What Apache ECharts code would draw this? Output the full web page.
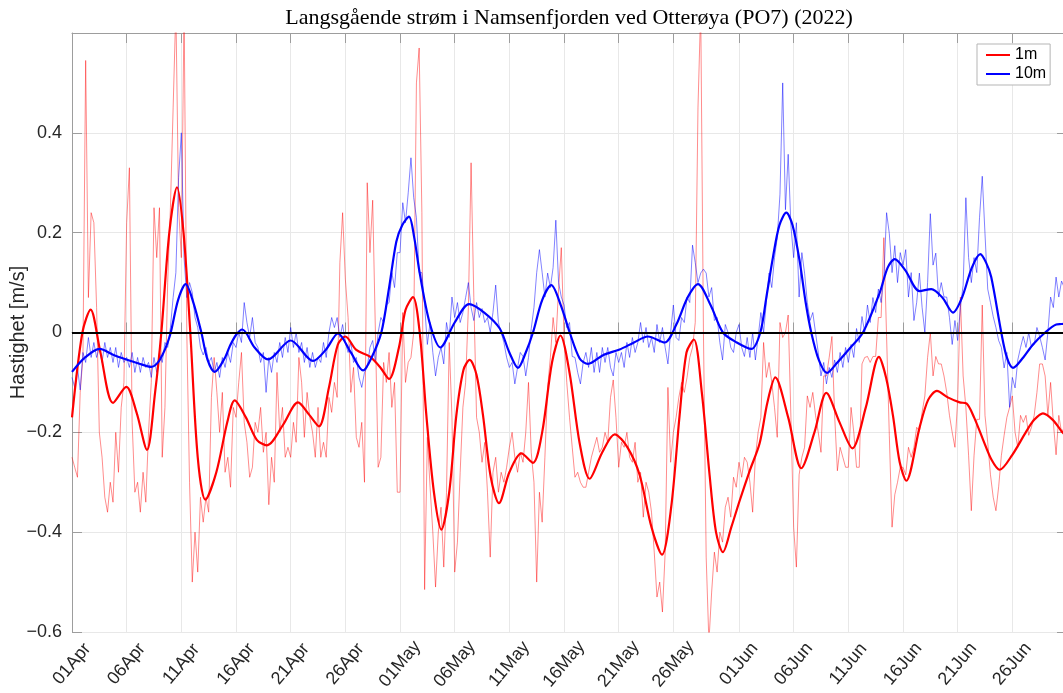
<!DOCTYPE html>
<html>
<head>
<meta charset="utf-8">
<script src="https://cdn.jsdelivr.net/npm/echarts@6/dist/echarts.min.js"></script>
<style>
  html, body { margin: 0; padding: 0; background: #fff; }
  #chart { width: 1063px; height: 693px; }
</style>
</head>
<body>
<div id="chart"></div>
<script>
// Langsgående strøm ved Otterøya (PO7), 2022.
// Rådata: én verdi hver 6. time fra 01.04 kl. 00.
const startDate = Date.UTC(2022, 3, 1);
const sampleHours = 6;
const endDay = 91;

const tickLabels = ['01Apr', '06Apr', '11Apr', '16Apr', '21Apr', '26Apr',
  '01May', '06May', '11May', '16May', '21May', '26May',
  '01Jun', '06Jun', '11Jun', '16Jun', '21Jun', '26Jun'];

// 1 m dyp, rådata (m/s), fire verdier per døgn
const raw1m = [
  -0.25, -0.27, -0.29, -0.12,
  -0.05, 0.545, 0.07, 0.24,
  0.22, 0.05, -0.20, -0.25,
  -0.33, -0.36, -0.30, -0.34,
  -0.20, -0.28, -0.15, -0.10,
  0.22, 0.33, -0.18, -0.32,
  -0.30, -0.36, -0.28, -0.34,
  -0.20, -0.10, 0.25, 0.15,
  0.25, -0.25, -0.15, 0.10,
  0.25, 0.45, 0.65, 0.25,
  0.15, 0.65, 0.00, -0.30,
  -0.50, -0.40, -0.48, -0.33,
  -0.38, -0.33, -0.36, -0.13,
  -0.05, -0.12, -0.20, -0.12,
  -0.28, -0.25, -0.31, -0.15,
  -0.17, -0.10, -0.04, -0.18,
  -0.22, -0.29, -0.27, -0.18,
  -0.20, -0.15, -0.24, -0.20,
  -0.345, -0.25, -0.30, -0.08,
  -0.20, -0.15, -0.25, -0.23,
  -0.25, -0.18, -0.22, -0.05,
  -0.10, -0.21, -0.12, -0.17,
  -0.20, -0.25, -0.15, -0.25,
  -0.22, -0.25, -0.13, -0.16,
  -0.10, -0.13, 0.14, 0.24,
  0.107, 0.03, -0.12, -0.07,
  -0.21, -0.23, -0.18, -0.30,
  0.30, 0.16, 0.265, 0.00,
  -0.27, -0.25, -0.06, -0.10,
  -0.04, -0.15, -0.10, -0.32,
  -0.32, 0.04, -0.10, -0.06,
  -0.05, 0.00, 0.50, 0.57,
  0.24, -0.515, -0.21, -0.31,
  -0.40, -0.51, -0.40, -0.35,
  -0.47, -0.32, -0.02, -0.17,
  -0.48, -0.42, -0.28, -0.15,
  -0.10, 0.05, 0.34, 0.07,
  -0.17, -0.20, -0.26, -0.22,
  -0.32, -0.45, -0.28, -0.25,
  -0.32, -0.28, -0.30, -0.27,
  -0.23, -0.20, -0.25, -0.28,
  -0.24, -0.26, -0.20, -0.10,
  -0.24, -0.30, -0.50, -0.32,
  -0.38, -0.25, -0.11, -0.05,
  0.03, -0.02, 0.087, 0.17,
  -0.01, -0.10, -0.17, -0.23,
  -0.29, -0.28, -0.30, -0.31,
  -0.31, -0.28, -0.25, -0.23,
  -0.21, -0.24, -0.23, -0.20,
  -0.22, -0.13, -0.095, -0.17,
  -0.27, -0.22, -0.23, -0.20,
  -0.25, -0.26, -0.22, -0.30,
  -0.28, -0.37, -0.30, -0.32,
  -0.36, -0.44, -0.53, -0.50,
  -0.56, -0.44, -0.11, -0.26,
  -0.20, -0.17, -0.13, -0.10,
  -0.12, -0.09, -0.05, -0.03,
  0.02, 0.45, 0.65, 0.00,
  -0.45, -0.62, -0.52, -0.44,
  -0.48, -0.40, -0.42, -0.35,
  -0.33, -0.37, -0.29, -0.31,
  -0.26, -0.29, -0.25, -0.26,
  -0.30, -0.36, -0.25, -0.20,
  -0.17, -0.02, -0.09, -0.06,
  -0.10, -0.15, -0.21, 0.02,
  -0.01, 0.00, 0.035, -0.17,
  -0.39, -0.47, -0.285, -0.25,
  -0.23, -0.127, -0.15, -0.12,
  -0.166, -0.20, -0.24, -0.087,
  -0.087, -0.05, -0.008, -0.166,
  -0.277, -0.23, -0.25, -0.27,
  -0.27, -0.15, -0.20, -0.27,
  -0.27, -0.063, -0.05, -0.048,
  -0.06, -0.048, -0.048, 0.03,
  0.03, 0.19, -0.008, -0.206,
  -0.39, -0.325, -0.30, -0.27,
  -0.27, -0.285, -0.23, -0.25,
  -0.23, -0.19, -0.198, -0.16,
  -0.127, -0.05, 0.00, -0.087,
  -0.048, -0.063, -0.063, -0.087,
  -0.12, -0.166, -0.20, -0.23,
  -0.135, 0.071, -0.087, -0.15,
  -0.246, -0.357, -0.246, -0.174,
  -0.174, 0.055, -0.166, -0.22,
  -0.285, -0.33, -0.357, -0.309,
  -0.246, -0.206, -0.17, -0.15,
  -0.127, -0.20, -0.23, -0.166,
  -0.18, -0.166, -0.206, -0.19,
  -0.166, -0.12, -0.063, -0.063,
  -0.087, -0.166, -0.10, -0.18,
  -0.245, -0.166, -0.20, -0.19
];

// 10 m dyp, rådata (m/s), fire verdier per døgn
const raw10m = [
  -0.09, -0.11, -0.07, -0.115,
  -0.04, -0.06, -0.01, -0.05,
  -0.02, -0.05, -0.03, -0.06,
  -0.02, -0.05, -0.03, -0.06,
  -0.03, -0.07, -0.04, -0.06,
  -0.05, -0.07, -0.04, -0.08,
  -0.05, -0.08, -0.05, -0.07,
  -0.06, -0.09, -0.05, -0.08,
  -0.04, -0.06, -0.02, -0.03,
  0.01, 0.07, 0.12, 0.31,
  0.40, 0.15, 0.07, 0.10,
  0.08, 0.03, 0.01, -0.03,
  -0.045, -0.03, -0.06, -0.05,
  -0.08, -0.06, -0.09, -0.05,
  -0.07, -0.04, -0.06, -0.02,
  -0.03, 0.00, -0.02, 0.06,
  0.02, -0.01, 0.03, -0.02,
  -0.03, -0.06, -0.04, -0.12,
  -0.05, -0.08, -0.04, -0.06,
  -0.02, -0.05, -0.01, -0.04,
  0.01, -0.03, 0.00, -0.04,
  -0.02, -0.06, -0.03, -0.07,
  -0.04, -0.07, -0.05, -0.06,
  -0.02, -0.05, 0.00, 0.03,
  0.01, 0.03, -0.01, 0.016,
  -0.02, -0.04, -0.02, -0.06,
  -0.05, -0.09, -0.11, -0.08,
  -0.07, -0.03, -0.016, -0.06,
  0.00, 0.03, 0.02, 0.055,
  0.06, 0.12, 0.09, 0.16,
  0.16, 0.26, 0.22, 0.28,
  0.35, 0.27, 0.23, 0.12,
  0.12, 0.055, -0.024, 0.02,
  -0.04, -0.087, -0.05, -0.03,
  -0.063, 0.02, -0.01, 0.071,
  0.03, 0.06, 0.02, 0.04,
  0.07, 0.10, 0.05, 0.024,
  0.06, 0.03, 0.048, 0.02,
  0.03, 0.00, 0.04, 0.095,
  0.02, 0.00, -0.02, -0.05,
  -0.07, -0.06, -0.103, -0.07,
  -0.04, -0.048, -0.087, -0.05,
  0.008, 0.05, 0.12, 0.166,
  0.12, 0.071, 0.119, 0.09,
  0.13, 0.225, 0.10, 0.071,
  0.055, 0.01, 0.02, -0.048,
  -0.05, -0.08, -0.103, -0.06,
  -0.04, -0.07, -0.03, -0.08,
  -0.04, -0.08, -0.03, -0.06,
  -0.03, -0.07, -0.087, -0.04,
  -0.06, -0.04, -0.07, -0.02,
  -0.05, -0.01, -0.04, -0.02,
  0.02, -0.02, 0.01, -0.03,
  -0.01, -0.04, 0.016, -0.02,
  0.01, -0.03, -0.063, 0.00,
  0.055, -0.01, -0.016, 0.03,
  0.02, 0.071, 0.06, 0.175,
  0.14, 0.10, 0.119, 0.127,
  0.119, 0.071, 0.09, 0.024,
  0.03, -0.02, -0.055, 0.016,
  0.00, -0.03, -0.04, 0.00,
  0.016, -0.03, -0.048, -0.01,
  -0.05, 0.00, -0.055, -0.01,
  0.04, 0.00, 0.06, 0.119,
  0.09, 0.15, 0.19, 0.277,
  0.50, 0.246, 0.357, 0.214,
  0.15, 0.22, 0.071, 0.16,
  0.119, 0.06, 0.024, 0.04,
  0.00, -0.04, -0.087, -0.06,
  -0.103, -0.07, -0.09, -0.055,
  -0.08, -0.04, -0.07, -0.03,
  -0.06, -0.024, -0.05, 0.008,
  -0.02, 0.032, 0.00, 0.055,
  0.02, 0.07, 0.04, 0.087,
  0.06, 0.11, 0.24, 0.198,
  0.12, 0.174, 0.10, 0.16,
  0.135, 0.166, 0.071, 0.12,
  0.024, 0.06, 0.119, 0.05,
  0.00, 0.10, 0.238, 0.135,
  0.159, 0.071, 0.10, 0.071,
  0.071, 0.03, -0.024, 0.024,
  -0.016, 0.05, 0.095, 0.27,
  0.15, 0.10, 0.15, 0.12,
  0.23, 0.313, 0.198, 0.087,
  0.06, 0.032, 0.01, -0.016,
  -0.03, -0.071, -0.04, -0.15,
  -0.09, -0.111, -0.055, -0.03,
  -0.008, -0.03, 0.00, -0.03,
  -0.024, 0.01, -0.008, -0.03,
  -0.055, 0.00, 0.071, 0.05,
  0.111, 0.071, 0.103, 0.09
];

// Lavpassfiltrert strøm: [døgn etter 01.04, m/s]
const filt1m = [
  [0, -0.17], [0.95, 0], [1.7, 0.046], [2.6, -0.04], [3.75, -0.141], [4.97, -0.109],
  [5.9, -0.16], [6.86, -0.235], [7.6, -0.12], [8.17, 0], [8.9, 0.2], [9.6, 0.291],
  [10.2, 0.2], [10.82, 0], [11.5, -0.25], [12.2, -0.335], [13.2, -0.28], [14.2, -0.18],
  [14.88, -0.136], [15.9, -0.17], [16.9, -0.215], [17.83, -0.226], [19.3, -0.185],
  [20.67, -0.14], [21.7, -0.165], [22.59, -0.188], [23.5, -0.11], [24.3, -0.025],
  [25.0, -0.008], [26.0, -0.035], [27.22, -0.048], [28.2, -0.07], [29.0, -0.093],
  [29.9, -0.03], [30.5, 0.045], [31.19, 0.071], [31.8, 0.0], [32.41, -0.166],
  [33.1, -0.32], [33.78, -0.395], [34.5, -0.32], [35.15, -0.166], [35.8, -0.075],
  [36.37, -0.055], [37.0, -0.085], [37.59, -0.166], [38.3, -0.29], [39.05, -0.342],
  [40.0, -0.28], [41.1, -0.242], [42.16, -0.261], [43.0, -0.2], [43.9, -0.06],
  [44.67, -0.006], [45.5, -0.08], [46.43, -0.222], [47.34, -0.293], [48.5, -0.24],
  [49.63, -0.204], [50.8, -0.23], [51.91, -0.285], [53.0, -0.39], [53.96, -0.445],
  [54.8, -0.35], [55.57, -0.166], [56.2, -0.04], [56.88, -0.014], [57.6, -0.12],
  [58.31, -0.285], [58.9, -0.4], [59.53, -0.44], [60.3, -0.39], [61.06, -0.337],
  [61.98, -0.277], [62.89, -0.222], [63.6, -0.14], [64.32, -0.09], [65.5, -0.17],
  [66.7, -0.272], [67.9, -0.2], [68.99, -0.121], [70.2, -0.18], [71.37, -0.232],
  [72.6, -0.15], [73.8, -0.049], [74.45, -0.09], [75.08, -0.166], [75.7, -0.26],
  [76.3, -0.297], [77.52, -0.19], [78.3, -0.135], [79.1, -0.117], [80.1, -0.13],
  [81.18, -0.14], [81.8, -0.142], [82.5, -0.17], [83.31, -0.214], [84.1, -0.255],
  [84.84, -0.275], [86.0, -0.245], [87.28, -0.198], [88.0, -0.175], [88.8, -0.162],
  [89.7, -0.175], [90.5, -0.198], [90.8, -0.205]
];

const filt10m = [
  [0, -0.079], [1.2, -0.05], [2.53, -0.033], [3.8, -0.045], [4.97, -0.054], [6.1, -0.062],
  [7.26, -0.069], [8.02, -0.055], [8.93, -0.008], [9.7, 0.065], [10.4, 0.097], [11.1, 0.06],
  [11.83, 0], [12.4, -0.055], [13.05, -0.079], [14.0, -0.05], [14.42, -0.028], [15.0, -0.005],
  [15.58, 0.006], [16.7, -0.03], [17.93, -0.054], [20.0, -0.016], [22.04, -0.057],
  [23.2, -0.035], [24.33, -0.002], [25.5, -0.04], [26.62, -0.076], [27.4, -0.05],
  [28.29, 0], [29.0, 0.09], [29.66, 0.182], [30.2, 0.215], [30.82, 0.232], [31.3, 0.19],
  [31.8, 0.119], [32.7, 0.02], [33.69, -0.030], [35.0, 0.02], [36.31, 0.057], [37.7, 0.04],
  [39.12, 0.008], [40.0, -0.04], [40.79, -0.071], [41.5, -0.04], [42.16, 0], [43.0, 0.065],
  [43.84, 0.095], [44.7, 0.055], [45.52, 0], [46.43, -0.052], [47.19, -0.063],
  [48.6, -0.045], [50.08, -0.034], [51.4, -0.02], [52.67, -0.008], [54.2, -0.02],
  [55.27, 0.016], [56.3, 0.07], [57.25, 0.097], [58.4, 0.055], [59.53, 0], [60.8, -0.02],
  [62.13, -0.033], [62.95, 0], [63.5, 0.07], [64.11, 0.151], [64.7, 0.215], [65.33, 0.240],
  [65.9, 0.215], [66.55, 0.143], [67.1, 0.06], [67.61, 0], [68.3, -0.055], [69.05, -0.081],
  [70.0, -0.06], [71.12, -0.032], [72.34, 0], [73.86, 0.079], [74.6, 0.13], [75.24, 0.147],
  [76.2, 0.125], [77.52, 0.083], [78.59, 0.087], [79.6, 0.07], [80.57, 0.040], [81.4, 0.07],
  [82.3, 0.13], [83.07, 0.157], [83.6, 0.14], [84.07, 0.111], [84.99, 0], [85.5, -0.05],
  [86.06, -0.071], [87.0, -0.05], [87.89, -0.024], [89.0, 0.0], [90.02, 0.016],
  [90.5, 0.017], [90.8, 0.018]
];

// ---- time helpers -------------------------------------------------------
const monthIndex = { Jan: 0, Feb: 1, Mar: 2, Apr: 3, May: 4, Jun: 5, Jul: 6 };
const stepMs = sampleHours * 3600 * 1000;
const stepDays = sampleHours / 24;
const slotCount = Math.round(endDay / stepDays) + 1;

// one category per sample slot, used only to place date ticks and grid lines
const slots = [];
for (let i = 0; i < slotCount; i++) slots.push(String(i));

const labelAtSlot = {};
tickLabels.forEach(function (lab) {
  const d = parseInt(lab.slice(0, 2), 10);
  const m = monthIndex[lab.slice(2)];
  const slot = Math.round((Date.UTC(2022, m, d) - startDate) / stepMs);
  labelAtSlot[slot] = lab;
});
const isTick = function (idx) { return labelAtSlot[idx] !== undefined; };

const toSeries = function (arr) {
  return arr.map(function (v, i) { return [i * stepDays, v]; });
};

const axisGrey = '#9d9d9d';
const gridGrey = '#e8e8e8';
const textDark = '#262626';
const sansFont = '"Liberation Sans", Arial, Helvetica, sans-serif';

const chart = echarts.init(document.getElementById('chart'), null, { renderer: 'canvas' });

chart.setOption({
  animation: false,
  backgroundColor: '#fff',
  title: {
    text: 'Langsgående strøm i Namsenfjorden ved Otterøya (PO7) (2022)',
    left: 569,
    top: 7,
    padding: 0,
    textAlign: 'center',
    textStyle: {
      fontFamily: '"Liberation Serif", "DejaVu Serif", serif',
      fontWeight: 'normal',
      fontSize: 22,
      color: '#000'
    }
  },
  legend: {
    data: [
      { name: '1m', icon: 'rect' },
      { name: '10m', icon: 'rect' }
    ],
    orient: 'vertical',
    left: 977,
    top: 44,
    padding: [3, 4, 3, 9],
    itemGap: 3,
    itemWidth: 24,
    itemHeight: 2,
    backgroundColor: '#fff',
    borderColor: '#b5b5b5',
    borderWidth: 1,
    borderRadius: 0,
    textStyle: { fontFamily: sansFont, fontSize: 16, color: '#000', lineHeight: 16 }
  },
  grid: { left: 72, right: -4, top: 33, bottom: 61, containLabel: false, outerBoundsMode: 'none' },
  xAxis: [
    { type: 'value', min: 0, max: endDay, show: false },
    {
      type: 'category', data: slots, boundaryGap: false, position: 'bottom',
      axisLine: { show: true, lineStyle: { color: axisGrey, width: 1 } },
      axisTick: { show: true, inside: true, length: 10, interval: isTick,
        lineStyle: { color: axisGrey, width: 1 } },
      axisLabel: {
        show: true, interval: isTick, rotate: 50, margin: 32,
        align: 'center', verticalAlign: 'middle',
        formatter: function (v) { return labelAtSlot[+v] || ''; },
        fontFamily: sansFont, fontSize: 18, color: textDark
      },
      splitLine: { show: true, interval: isTick, lineStyle: { color: gridGrey, width: 1 } }
    },
    {
      type: 'category', data: slots, boundaryGap: false, position: 'top',
      axisLine: { show: true, lineStyle: { color: axisGrey, width: 1 } },
      axisTick: { show: true, inside: true, length: 10, interval: isTick,
        lineStyle: { color: axisGrey, width: 1 } },
      axisLabel: { show: false },
      splitLine: { show: false }
    }
  ],
  yAxis: [
    {
      type: 'value', min: -0.6, max: 0.6, interval: 0.2, position: 'left',
      name: 'Hastighet [m/s]', nameLocation: 'middle', nameGap: 44,
      nameMoveOverlap: false,
      nameTextStyle: { fontFamily: sansFont, fontSize: 20, color: textDark },
      axisLine: { show: true, lineStyle: { color: axisGrey, width: 1 } },
      axisTick: { show: true, inside: true, length: 10, lineStyle: { color: axisGrey, width: 1 } },
      axisLabel: {
        margin: 10, fontFamily: sansFont, fontSize: 18, color: textDark,
        formatter: function (v) {
          if (v > 0.59) return '';
          const s = String(+Math.abs(v).toFixed(1));
          return (v < -1e-9 ? '\u2212' : '') + s;
        }
      },
      splitLine: { show: true, lineStyle: { color: gridGrey, width: 1 } }
    },
    {
      type: 'value', min: -0.6, max: 0.6, interval: 0.2, position: 'right',
      axisLine: { show: true, lineStyle: { color: axisGrey, width: 1 } },
      axisTick: { show: true, inside: true, length: 10, lineStyle: { color: axisGrey, width: 1 } },
      axisLabel: { show: false },
      splitLine: { show: false }
    }
  ],
  series: [
    {
      name: '1m rå', type: 'line', xAxisIndex: 0, yAxisIndex: 0,
      data: toSeries(raw1m), symbol: 'none', z: 2,
      lineStyle: { color: 'rgba(255,0,0,0.5)', width: 0.9 }
    },
    {
      name: '10m rå', type: 'line', xAxisIndex: 0, yAxisIndex: 0,
      data: toSeries(raw10m), symbol: 'none', z: 2,
      lineStyle: { color: 'rgba(0,0,255,0.55)', width: 0.9 },
      markLine: {
        silent: true, symbol: ['none', 'none'], label: { show: false },
        lineStyle: { color: '#000', width: 2, type: 'solid' },
        emphasis: { disabled: true },
        data: [{ yAxis: 0 }]
      }
    },
    {
      name: '1m', type: 'line', xAxisIndex: 0, yAxisIndex: 0,
      data: filt1m, smooth: 0.3, symbol: 'none', z: 4,
      itemStyle: { color: '#ff0000' },
      lineStyle: { color: '#ff0000', width: 2.2 }
    },
    {
      name: '10m', type: 'line', xAxisIndex: 0, yAxisIndex: 0,
      data: filt10m, smooth: 0.3, symbol: 'none', z: 4,
      itemStyle: { color: '#0000ff' },
      lineStyle: { color: '#0000ff', width: 2.2 }
    }
  ]
});
</script>
</body>
</html>
